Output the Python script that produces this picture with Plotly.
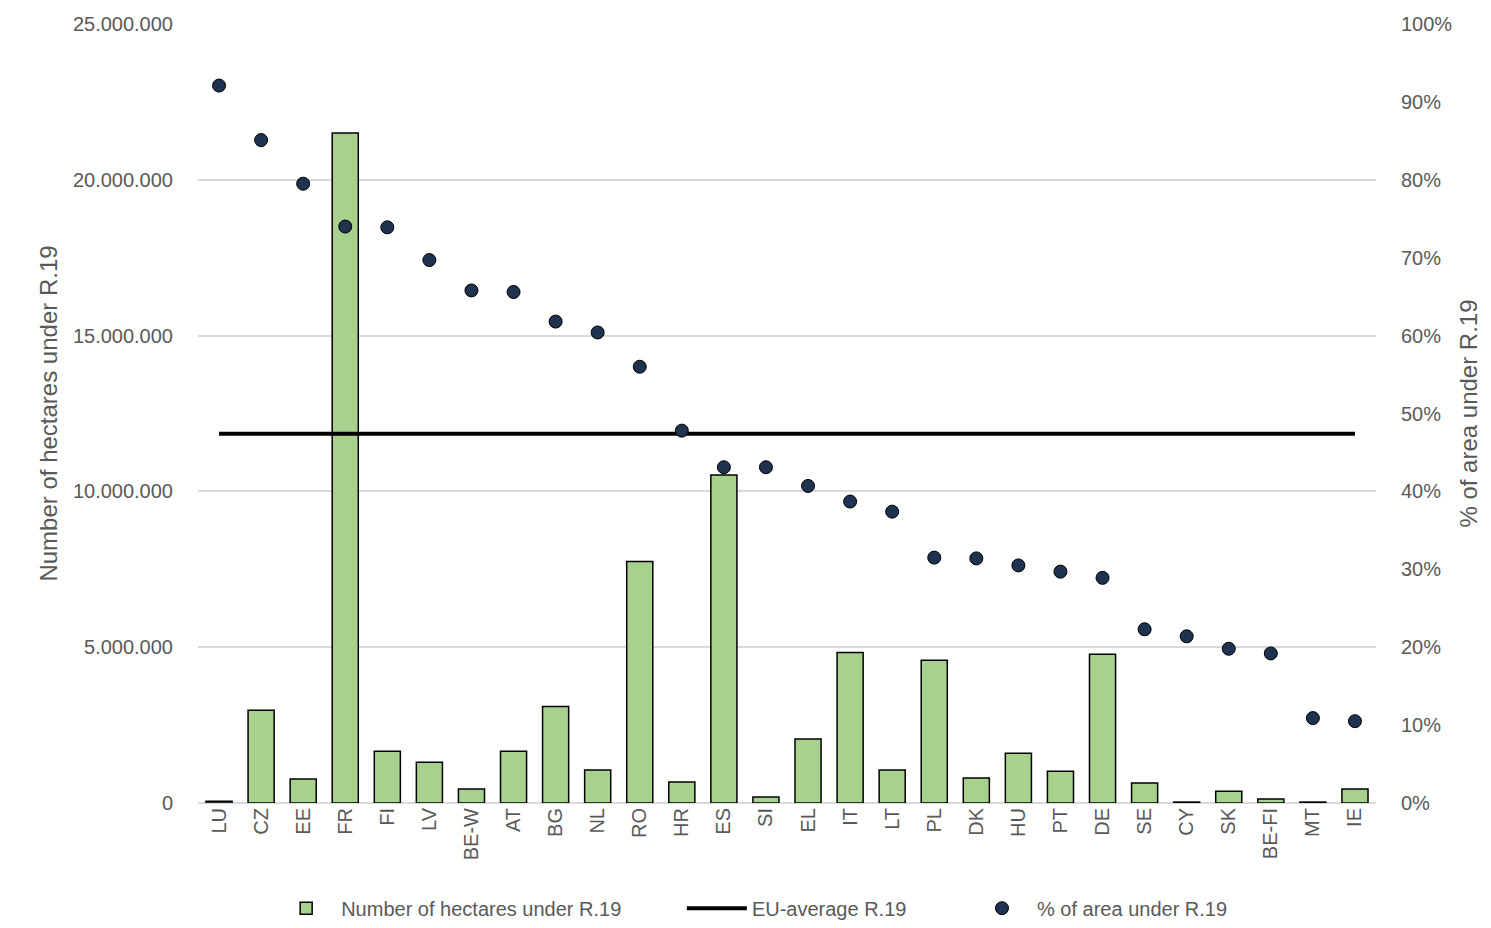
import plotly.graph_objects as go

countries = ["LU","CZ","EE","FR","FI","LV","BE-W","AT","BG","NL","RO","HR","ES","SI","EL","IT","LT","PL","DK","HU","PT","DE","SE","CY","SK","BE-FI","MT","IE"]
hectares = [60000,2980000,770000,21500000,1660000,1310000,450000,1660000,3100000,1060000,7750000,670000,10530000,190000,2050000,4830000,1060000,4580000,800000,1600000,1020000,4770000,640000,30000,380000,130000,30000,450000]
pct = [92.1,85.1,79.5,74.0,73.9,69.7,65.8,65.6,61.8,60.4,56.0,47.8,43.1,43.1,40.7,38.7,37.4,31.5,31.4,30.5,29.7,28.9,22.3,21.4,19.8,19.2,10.9,10.5]
eu_avg = 47.4

font = dict(family="Liberation Sans, Arial", size=20, color="#595959")
fig = go.Figure()
fig.add_trace(go.Bar(x=countries, y=hectares, name="Number of hectares under R.19          ",
                     marker=dict(color="#a9d18e", line=dict(color="black", width=1.5)), width=0.62))
fig.add_trace(go.Scatter(x=countries, y=[eu_avg]*len(countries), name="EU-average R.19          ", mode="lines",
                         line=dict(color="black", width=4), yaxis="y2"))
fig.add_trace(go.Scatter(x=countries, y=pct, name="% of area under R.19", mode="markers",
                         marker=dict(color="#1f3250", size=13, line=dict(color="black", width=1)), yaxis="y2"))
fig.update_layout(
    width=1491, height=928, plot_bgcolor="white", paper_bgcolor="white", font=font,
    margin=dict(l=190, r=123, t=16, b=133, autoexpand=False),
    xaxis=dict(tickangle=-90, showline=False, ticks="", automargin=False, range=[-0.5, 27.5]),
    yaxis=dict(title=dict(text="Number of hectares under R.19", standoff=8), range=[0, 25000000], dtick=5000000,
               tickformat=",.0f", gridcolor="#d9d9d9", gridwidth=1.5, zeroline=True, zerolinecolor="#d9d9d9",
               zerolinewidth=1.5, automargin=False, ticks="outside", ticklen=20, tickcolor="white"),
    yaxis2=dict(title=dict(text="% of area under R.19", standoff=8), overlaying="y", side="right", range=[0, 100], dtick=10,
                ticksuffix="%", showgrid=False, zeroline=False, automargin=False, ticks="outside", ticklen=20, tickcolor="white"),
    separators=",.",
    legend=dict(orientation="h", x=0.47, xanchor="center", y=-0.11, yanchor="top", font=font, itemwidth=60,
                tracegroupgap=0),
)
fig.write_html("out.html")
